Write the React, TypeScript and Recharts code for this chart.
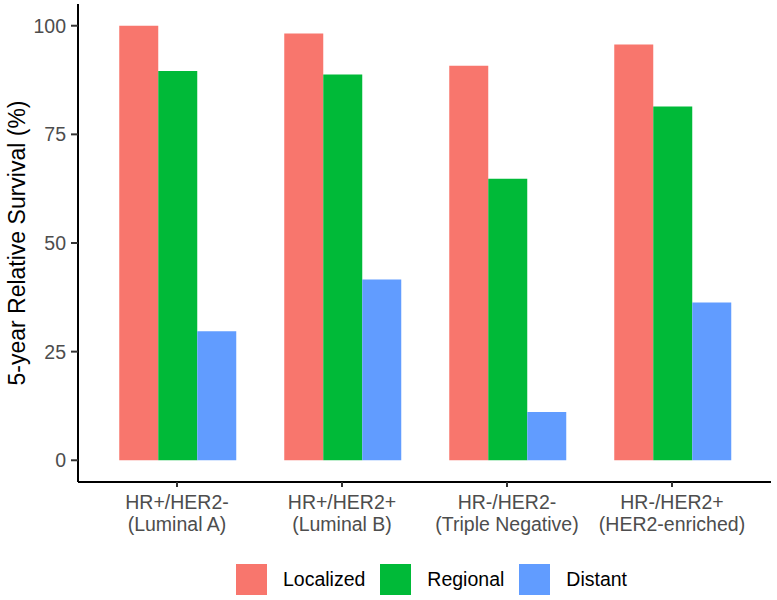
import React from "react";
import { BarChart, Bar, XAxis, YAxis, Legend } from "recharts";

const subtypes = ["HR+/HER2-", "HR+/HER2+", "HR-/HER2-", "HR-/HER2+"];
const subtypeNames = ["(Luminal A)", "(Luminal B)", "(Triple Negative)", "(HER2-enriched)"];
const localized = [100, 98.2, 90.8, 95.7];
const regional = [89.6, 88.8, 64.8, 81.4];
const distant = [29.7, 41.6, 11.1, 36.3];
const yTicks = [0, 25, 50, 75, 100];
const seriesNames = ["Localized", "Regional", "Distant"];
const seriesColors = ["#F8766D", "#00BA38", "#619CFF"];
const yTitle = "5-year Relative Survival (%)";

const data = subtypes.map((s, i) => ({
  key: s + "\n" + subtypeNames[i],
  Localized: localized[i],
  Regional: regional[i],
  Distant: distant[i],
}));

const FONT = "'Liberation Sans', Arial, sans-serif";

const XTick = (props: any) => {
  const { x, y, payload } = props;
  const parts = String(payload.value).split("\n");
  return (
    <text x={x} y={y} textAnchor="middle" fill="#4D4D4D" fontSize={19.5} fontFamily={FONT}>
      <tspan x={x} dy={22}>{parts[0]}</tspan>
      <tspan x={x} dy={22}>{parts[1]}</tspan>
    </text>
  );
};

const YTitle = (props: any) => {
  const vb = props.viewBox || { x: 0, y: 4, width: 78, height: 478 };
  const cx = 17;
  const cy = vb.y + vb.height / 2;
  return (
    <text
      x={cx}
      y={cy}
      transform={`rotate(-90, ${cx}, ${cy})`}
      textAnchor="middle"
      dominantBaseline="central"
      fill="#000"
      fontSize={23}
      fontFamily={FONT}
    >
      {yTitle}
    </text>
  );
};

const LegendContent = () => (
  <div
    style={{
      display: "flex",
      justifyContent: "center",
      alignItems: "center",
      paddingLeft: 86,
      fontFamily: FONT,
      fontSize: 19.5,
      color: "#000",
    }}
  >
    {seriesNames.map((n, i) => (
      <div key={n} style={{ display: "flex", alignItems: "center", marginRight: i < 2 ? 15 : 0 }}>
        <div style={{ width: 31, height: 31, background: seriesColors[i], marginRight: 16 }} />
        <span>{n}</span>
      </div>
    ))}
  </div>
);

export default function App() {
  return (
    <div style={{ position: "absolute", left: 0, top: 0, width: 777, height: 600, background: "#fff" }}>
      <BarChart
        width={777}
        height={600}
        data={data}
        margin={{ top: 4, right: 6, left: 0, bottom: 0 }}
        barCategoryGap="15%"
        barGap={0}
      >
        <XAxis
          dataKey="key"
          type="category"
          padding={{ left: 16.5, right: 16.5 }}
          height={60}
          tick={<XTick />}
          tickSize={5}
          tickMargin={0}
          axisLine={{ stroke: "#000", strokeWidth: 2 }}
          tickLine={{ stroke: "#333", strokeWidth: 2 }}
          interval={0}
        />
        <YAxis
          type="number"
          domain={[-5, 105]}
          ticks={yTicks}
          width={78}
          tickSize={7}
          tickMargin={5}
          tick={{ fill: "#4D4D4D", fontSize: 19.5, fontFamily: FONT }}
          axisLine={{ stroke: "#000", strokeWidth: 2 }}
          tickLine={{ stroke: "#333", strokeWidth: 2 }}
          allowDataOverflow
          label={<YTitle />}
        />
        <Legend
          verticalAlign="bottom"
          height={58}
          content={<LegendContent />}
          wrapperStyle={{ top: 564, left: 0, width: 777 }}
        />
        {seriesNames.map((n, i) => (
          <Bar key={n} dataKey={n} fill={seriesColors[i]} isAnimationActive={false} />
        ))}
      </BarChart>
    </div>
  );
}
